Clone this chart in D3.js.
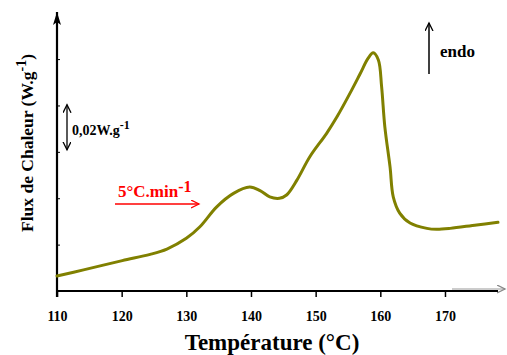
<!DOCTYPE html>
<meta charset="utf-8">
<style>
body {
  margin: 0;
  background: #fff;
}
text {
  font-family: "Liberation Serif", "Times New Roman", serif;
  font-weight: bold;
}
.axis--x path {
  display: none;
}
.axis--x line {
  stroke: #000;
  stroke-width: 1.5px;
}
.axis--y path {
  display: none;
}
.axis--y line {
  stroke: #000;
  stroke-width: 1px;
}
.curve {
  fill: none;
  stroke: #808000;
  stroke-width: 3px;
  stroke-linejoin: round;
  stroke-linecap: round;
}
</style>
<body>
<svg width="507" height="355"></svg>
<script src="https://cdnjs.cloudflare.com/ajax/libs/d3/7.8.5/d3.min.js"></script>
<script>
// DSC trace (temperature in °C, heat flow in W/g, arbitrary offset)
var temps = [110, 114.1, 120.1, 124.4, 127.0, 130.0, 132.1, 134.7, 137.3, 139.8,
             141.4, 142.9, 144.4, 145.5, 147.1, 149.1, 151.7, 153.3, 155.3, 156.9,
             158.1, 158.9, 159.7, 160.2, 160.7, 161.5, 162.0, 163.0, 164.6, 167.2,
             168.7, 170.8, 174.9, 178.2];
var flux = [0.0065, 0.0091, 0.0131, 0.0158, 0.0181, 0.0227, 0.0277, 0.0363, 0.0421, 0.0448,
            0.0433, 0.0406, 0.0400, 0.0414, 0.0478, 0.0579, 0.0680, 0.0751, 0.0852, 0.0938,
            0.1003, 0.1027, 0.0996, 0.0881, 0.0708, 0.0536, 0.0406, 0.0336, 0.0293, 0.0270,
            0.0266, 0.0270, 0.0285, 0.0296];
var xTicks = [110, 120, 130, 140, 150, 160, 170];
var yTicks = [0.02, 0.04, 0.06, 0.08, 0.10];

var svg = d3.select("svg");

var x = d3.scaleLinear().domain([110, 178.2]).range([57, 498]),
    y = d3.scaleLinear().domain([0, 0.1203]).range([291, 12]);

var defs = svg.append("defs");
// filled head for the y axis
defs.append("marker")
    .attr("id", "headFill")
    .attr("markerUnits", "userSpaceOnUse")
    .attr("markerWidth", 14).attr("markerHeight", 10)
    .attr("refX", 13).attr("refY", 4)
    .attr("orient", "auto")
  .append("path")
    .attr("d", "M0,0 L13,4 L0,8 L3,4 Z")
    .attr("fill", "#000");
// open chevron heads
[["openBlack", "#000"], ["openRed", "#ff0000"], ["openGrey", "#888"]].forEach(function(m) {
  defs.append("marker")
      .attr("id", m[0])
      .attr("markerUnits", "userSpaceOnUse")
      .attr("markerWidth", 12).attr("markerHeight", 12)
      .attr("refX", 8).attr("refY", 4)
      .attr("orient", "auto-start-reverse")
    .append("path")
      .attr("d", "M0,0 L8,4 L0,8")
      .attr("fill", "none")
      .attr("stroke", m[1])
      .attr("stroke-width", 1.3);
});

// x axis
svg.append("line")
    .attr("x1", x(110) - 1).attr("x2", x(178.2))
    .attr("y1", y(0)).attr("y2", y(0))
    .attr("stroke", "#000").attr("stroke-width", 2.2);
svg.append("line")
    .attr("x1", 452).attr("x2", 505)
    .attr("y1", y(0) - 2).attr("y2", y(0) - 2)
    .attr("stroke", "#999").attr("stroke-width", 1)
    .attr("marker-end", "url(#openGrey)");

svg.append("g")
    .attr("class", "axis axis--x")
    .attr("transform", "translate(0," + y(0) + ")")
    .call(d3.axisBottom(x).tickValues(xTicks).tickSize(6).tickPadding(14).tickFormat(d3.format("d")))
  .selectAll("text")
    .attr("fill", "#000")
    .style("font-size", "14px");

// y axis
svg.append("line")
    .attr("x1", x(110)).attr("x2", x(110))
    .attr("y1", 297).attr("y2", y(0.1203))
    .attr("stroke", "#000").attr("stroke-width", 2.2)
    .attr("marker-end", "url(#headFill)");

svg.append("g")
    .attr("class", "axis axis--y")
    .attr("transform", "translate(" + x(110) + ",0)")
    .call(d3.axisRight(y).tickValues(yTicks).tickSize(3).tickFormat(""));

// curve
var line = d3.line()
    .x(function(d, i) { return x(temps[i]); })
    .y(function(d) { return y(d); })
    .curve(d3.curveCatmullRom.alpha(0.5));

svg.append("path")
    .datum(flux)
    .attr("class", "curve")
    .attr("d", line);

// axis titles
svg.append("text")
    .attr("x", 272).attr("y", 350)
    .attr("text-anchor", "middle")
    .style("font-size", "23px")
    .text("Température (°C)");

var yt = svg.append("text")
    .attr("transform", "translate(33,143) rotate(-90)")
    .attr("text-anchor", "middle")
    .style("font-size", "17.5px");
yt.append("tspan").text("Flux de Chaleur (W.g");
yt.append("tspan").attr("dy", -7).style("font-size", "14px").text("-1");
yt.append("tspan").attr("dy", 7).text(")");

// scale bar 0,02 W/g
svg.append("line")
    .attr("x1", 67).attr("x2", 67)
    .attr("y1", y(0.0803)).attr("y2", y(0.0609))
    .attr("stroke", "#000").attr("stroke-width", 1.3)
    .attr("marker-start", "url(#openBlack)")
    .attr("marker-end", "url(#openBlack)");
var sb = svg.append("text")
    .attr("x", 72).attr("y", 135)
    .style("font-size", "14px");
sb.append("tspan").text("0,02W.g");
sb.append("tspan").attr("dy", -6).style("font-size", "12px").text("-1");

// heating rate
var hr = svg.append("text")
    .attr("x", 118).attr("y", 197)
    .attr("fill", "#ff0000")
    .style("font-size", "17px");
hr.append("tspan").text("5°C.min");
hr.append("tspan").attr("dy", -5).style("font-size", "16px").text("-1");
svg.append("line")
    .attr("x1", 115).attr("x2", 199)
    .attr("y1", 204).attr("y2", 204)
    .attr("stroke", "#ff0000").attr("stroke-width", 1.5)
    .attr("marker-end", "url(#openRed)");

// endo
svg.append("line")
    .attr("x1", 429).attr("x2", 429)
    .attr("y1", 74).attr("y2", 23)
    .attr("stroke", "#000").attr("stroke-width", 1.5)
    .attr("marker-end", "url(#openBlack)");
svg.append("text")
    .attr("x", 440).attr("y", 57)
    .style("font-size", "17px")
    .text("endo");
</script>
</body>
